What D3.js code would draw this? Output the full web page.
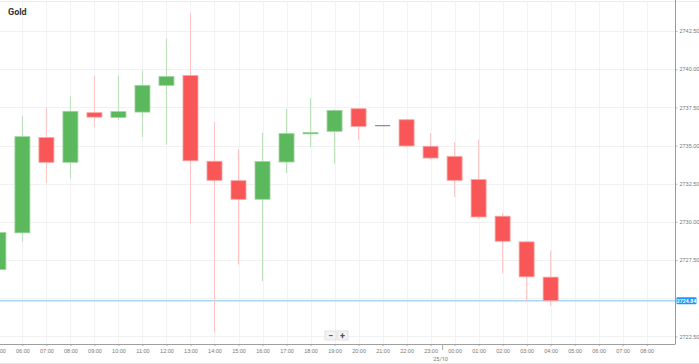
<!DOCTYPE html>
<html>
<head>
<meta charset="utf-8">
<script src="https://cdn.jsdelivr.net/npm/d3@7"></script>
<style>
  body { margin: 0; background: #fff; }
  svg { display: block; font-family: Roboto, "Open Sans", sans-serif; }
</style>
</head>
<body>
<svg id="chart" width="699" height="364"></svg>
<script>
// hourly candles, 24/10 05:00 -> 25/10 04:00
const times = [
  "2024-10-24 05:00", "2024-10-24 06:00", "2024-10-24 07:00", "2024-10-24 08:00",
  "2024-10-24 09:00", "2024-10-24 10:00", "2024-10-24 11:00", "2024-10-24 12:00",
  "2024-10-24 13:00", "2024-10-24 14:00", "2024-10-24 15:00", "2024-10-24 16:00",
  "2024-10-24 17:00", "2024-10-24 18:00", "2024-10-24 19:00", "2024-10-24 20:00",
  "2024-10-24 21:00", "2024-10-24 22:00", "2024-10-24 23:00", "2024-10-25 00:00",
  "2024-10-25 01:00", "2024-10-25 02:00", "2024-10-25 03:00", "2024-10-25 04:00"
];
const opens  = [2726.88, 2729.28, 2735.52, 2733.90, 2737.15, 2736.84, 2737.19, 2738.94,
                2739.59, 2733.97, 2732.70, 2731.48, 2733.92, 2735.84, 2735.93, 2737.41,
                2736.30, 2736.69, 2734.95, 2734.29, 2732.77, 2730.37, 2728.69, 2726.38];
const highs  = [2729.50, 2736.93, 2737.48, 2738.22, 2739.59, 2739.60, 2739.92, 2742.00,
                2743.64, 2736.54, 2734.75, 2735.84, 2737.41, 2738.10, 2737.35, 2737.45,
                2736.30, 2736.72, 2735.82, 2735.23, 2735.40, 2730.58, 2728.75, 2728.14];
const lows   = [2726.40, 2728.69, 2732.55, 2732.83, 2736.21, 2736.65, 2735.55, 2735.06,
                2729.89, 2722.80, 2727.21, 2726.12, 2733.20, 2734.90, 2733.81, 2735.38,
                2736.30, 2734.95, 2734.10, 2731.63, 2730.20, 2726.62, 2724.76, 2724.48];
const closes = [2729.30, 2735.58, 2733.90, 2737.24, 2736.86, 2737.22, 2738.94, 2739.52,
                2734.00, 2732.72, 2731.48, 2733.95, 2735.78, 2735.86, 2737.30, 2736.25,
                2736.30, 2734.97, 2734.18, 2732.72, 2730.32, 2728.73, 2726.40, 2724.84];

const yGrid = [2722.5, 2725, 2727.5, 2730, 2732.5, 2735, 2737.5, 2740, 2742.5];
// 2725.00 sits under the current-price tag, so it has no label
const yTickLabels = [2722.5, 2727.5, 2730, 2732.5, 2735, 2737.5, 2740, 2742.5];
const title = "Gold";
const dayLabel = "25/10";

const parse = d3.timeParse("%Y-%m-%d %H:%M");
const data = times.map((t, i) => ({
  date: parse(t), open: opens[i], high: highs[i], low: lows[i], close: closes[i]
}));

const svg = d3.select("#chart");
const plotRight = 675.5;
const plotBottom = 344;

const xScale = d3.scaleTime()
  .domain([parse("2024-10-24 05:04"), parse("2024-10-25 09:12")])
  .range([0, plotRight]);

const yScale = d3.scaleLinear()
  .domain([2722.0, 2744.4])
  .range([plotBottom, 2]);

const hourTicks = d3.timeHour.range(parse("2024-10-24 05:00"), parse("2024-10-25 09:00"));

const green = "#5cb85c", red = "#f95757";
const greenWick = "#b9e0b9", redWick = "#fcc4c4";
const candleW = 15;

// frame lines
svg.append("line").attr("x1", 0).attr("x2", 699).attr("y1", 1.5).attr("y2", 1.5)
  .attr("stroke", "#ececec");
svg.append("line").attr("x1", 0).attr("x2", 699).attr("y1", 363.5).attr("y2", 363.5)
  .attr("stroke", "#e6e6e6");

// grid
const grid = svg.append("g").attr("class", "grid");
grid.selectAll(".vgrid").data(hourTicks).join("line")
  .attr("class", "vgrid")
  .attr("x1", d => Math.round(xScale(d)) + 0.5)
  .attr("x2", d => Math.round(xScale(d)) + 0.5)
  .attr("y1", 2).attr("y2", plotBottom)
  .attr("stroke", "#f3f3f3");
grid.selectAll(".hgrid").data(yGrid).join("line")
  .attr("class", "hgrid")
  .attr("x1", 0).attr("x2", plotRight)
  .attr("y1", d => Math.round(yScale(d)) + 0.5)
  .attr("y2", d => Math.round(yScale(d)) + 0.5)
  .attr("stroke", "#f1f1f1");

// current price line
const last = data[data.length - 1].close;
svg.append("line")
  .attr("x1", 0).attr("x2", plotRight)
  .attr("y1", yScale(last)).attr("y2", yScale(last))
  .attr("stroke", "#a9d6f2").attr("stroke-width", 1.5);

// candles
const candles = svg.append("g").attr("class", "candles")
  .selectAll("g").data(data).join("g");

candles.append("line")
  .attr("x1", d => xScale(d.date)).attr("x2", d => xScale(d.date))
  .attr("y1", d => yScale(d.high)).attr("y2", d => yScale(d.low))
  .attr("stroke", d => d.close >= d.open ? greenWick : redWick)
  .attr("stroke-width", 1);

candles.filter(d => d.close !== d.open).append("rect")
  .attr("x", d => xScale(d.date) - candleW / 2)
  .attr("width", candleW)
  .attr("y", d => yScale(Math.max(d.open, d.close)))
  .attr("height", d => Math.max(1.5, Math.abs(yScale(d.open) - yScale(d.close))))
  .attr("fill", d => d.close > d.open ? green : red)
  .attr("stroke", d => d.close > d.open ? "#9fd49f" : "#fba3a3")
  .attr("stroke-width", 0.8);

candles.filter(d => d.close === d.open).append("line")
  .attr("x1", d => xScale(d.date) - candleW / 2)
  .attr("x2", d => xScale(d.date) + candleW / 2)
  .attr("y1", d => yScale(d.close)).attr("y2", d => yScale(d.close))
  .attr("stroke", "#888").attr("stroke-width", 1.2);

// y axis on the right
const yAxis = d3.axisRight(yScale)
  .tickValues(yTickLabels)
  .tickSize(2)
  .tickPadding(2)
  .tickFormat(d3.format(".2f"));
const yAxisG = svg.append("g")
  .attr("transform", `translate(${plotRight},0)`)
  .call(yAxis);
yAxisG.select(".domain").remove();
yAxisG.selectAll(".tick line").attr("stroke", "#bbb");
yAxisG.selectAll(".tick text").attr("fill", "#777").attr("font-size", 5.5);
svg.append("line")
  .attr("x1", plotRight).attr("x2", plotRight).attr("y1", 0).attr("y2", plotBottom)
  .attr("stroke", "#9a9a9a");

// x axis
const xAxis = d3.axisBottom(xScale)
  .tickValues(hourTicks)
  .tickSize(2)
  .tickPadding(3)
  .tickFormat(d3.timeFormat("%H:%M"));
const xAxisG = svg.append("g")
  .attr("transform", `translate(0,${plotBottom})`)
  .call(xAxis);
xAxisG.select(".domain").remove();
xAxisG.selectAll(".tick line").attr("stroke", "#aaa");
xAxisG.selectAll(".tick text").attr("fill", "#777").attr("font-size", 5.5);
svg.append("line")
  .attr("x1", 0).attr("x2", plotRight).attr("y1", plotBottom + 0.5).attr("y2", plotBottom + 0.5)
  .attr("stroke", "#a0a0a0");

// day separator
const dayX = xScale(parse("2024-10-24 23:30"));
svg.append("line")
  .attr("x1", dayX).attr("x2", dayX).attr("y1", plotBottom).attr("y2", plotBottom + 6)
  .attr("stroke", "#aaa");
svg.append("text")
  .attr("x", dayX - 2).attr("y", 361)
  .attr("text-anchor", "middle")
  .attr("fill", "#777").attr("font-size", 5.5)
  .text(dayLabel);

// current price label
const priceY = yScale(last);
svg.append("rect")
  .attr("x", plotRight + 1).attr("y", priceY - 3.5)
  .attr("width", 20).attr("height", 7).attr("rx", 1)
  .attr("fill", "#2196f3");
svg.append("text")
  .attr("x", plotRight + 11).attr("y", priceY + 2)
  .attr("text-anchor", "middle")
  .attr("fill", "#fff").attr("font-size", 5.2).attr("font-weight", "bold")
  .text(d3.format(".2f")(last));

// zoom buttons
const btns = svg.append("g").attr("transform", "translate(325,331)");
["\u2212", "+"].forEach((s, i) => {
  btns.append("rect")
    .attr("x", i * 12).attr("y", 0).attr("width", 11).attr("height", 9)
    .attr("fill", "#f3f3f3").attr("stroke", "#e2e2e2");
  btns.append("text")
    .attr("x", i * 12 + 5.5).attr("y", 7.5)
    .attr("text-anchor", "middle")
    .attr("font-size", 9).attr("font-weight", "bold").attr("fill", "#555")
    .text(s);
});

// title
svg.append("text")
  .attr("x", 8).attr("y", 15)
  .attr("font-size", 9).attr("font-weight", "bold").attr("fill", "#333")
  .text(title);
</script>
</body>
</html>
